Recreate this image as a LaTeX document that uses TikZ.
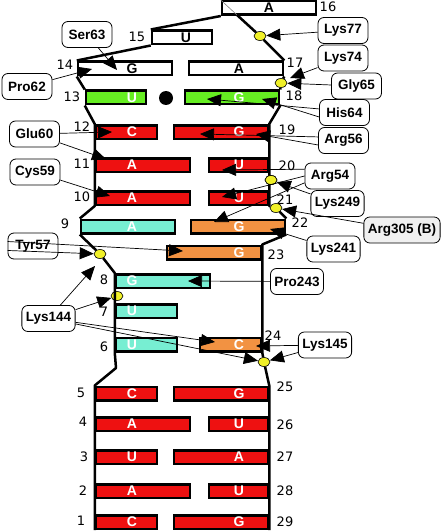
\documentclass[tikz,border=0pt]{standalone}
\usepackage{fontspec}
\setmainfont{Liberation Sans}
\newfontfamily\numfont{DejaVu Sans}
\usetikzlibrary{arrows.meta,shapes.geometric}
\definecolor{barred}{RGB}{238,17,17}
\definecolor{bargreen}{RGB}{102,238,34}
\definecolor{barcyan}{RGB}{119,238,210}
\definecolor{barorange}{RGB}{242,146,66}
\definecolor{dotyellow}{RGB}{240,240,40}
\begin{document}
\begin{tikzpicture}[x=1pt,y=-1pt,
    bar/.style={draw,line width=2.5pt,minimum height=13.5pt,inner sep=0pt},
    redbar/.style={bar,fill=barred},
    greenbar/.style={bar,fill=bargreen},
    cyanbar/.style={bar,fill=barcyan},
    orangebar/.style={bar,fill=barorange},
    whitebar/.style={bar,fill=white},
    wlet/.style={text=white,font=\fontsize{14}{14}\bfseries\selectfont,inner sep=0pt},
    blet/.style={text=black,font=\fontsize{14}{14}\bfseries\selectfont,inner sep=0pt},
    num/.style={font=\numfont\fontsize{13}{13}\selectfont,inner sep=0pt},
    ydot/.style={ellipse,draw,fill=dotyellow,minimum width=12pt,minimum height=9pt,inner sep=0pt,line width=0.6pt},
    bb/.style={line width=2.5pt,line join=round},
    lab/.style={draw,rounded corners=6pt,fill=white,line width=0.8pt,minimum height=26pt,minimum width=50pt,inner xsep=4pt,font=\fontsize{13.5}{15}\bfseries\selectfont},
    arr/.style={-{Triangle[length=14pt,width=12pt]},line width=0.7pt}]
\useasboundingbox (0,0) rectangle (441,532);

\node[redbar,minimum width=61pt] (b1) at (126.5,522) {};
\node[redbar,minimum width=94pt] (b29) at (221,522) {};
\node[redbar,minimum width=94pt] (b2) at (143,491) {};
\node[redbar,minimum width=59pt] (b28) at (238.5,491) {};
\node[redbar,minimum width=61pt] (b3) at (126.5,457) {};
\node[redbar,minimum width=94pt] (b27) at (221,457) {};
\node[redbar,minimum width=94pt] (b4) at (143,424) {};
\node[redbar,minimum width=59pt] (b26) at (238.5,424) {};
\node[redbar,minimum width=61pt] (b5) at (126.5,393.5) {};
\node[redbar,minimum width=94pt] (b25) at (221,393.5) {};
\node[cyanbar,minimum width=61pt] (b6) at (146.5,344.5) {};
\node[orangebar,minimum width=61pt] (b24) at (230.5,344.5) {};
\node[cyanbar,minimum width=61pt] (b7) at (146.5,311) {};
\node[cyanbar,minimum width=94pt] (b8) at (163,281) {};
\node[orangebar,minimum width=94pt] (b23) at (214,252.5) {};
\node[cyanbar,minimum width=94pt] (b9) at (128,226.5) {};
\node[orangebar,minimum width=94pt] (b22) at (238,226.5) {};
\node[redbar,minimum width=94pt] (b10) at (143,198) {};
\node[redbar,minimum width=59pt] (b21) at (238.5,198) {};
\node[redbar,minimum width=94pt] (b11) at (143,165) {};
\node[redbar,minimum width=59pt] (b20) at (238.5,165) {};
\node[redbar,minimum width=61pt] (b12) at (126.5,132) {};
\node[redbar,minimum width=94pt] (b19) at (221,132) {};
\node[greenbar,minimum width=60pt] (b13) at (116,97.5) {};
\node[greenbar,minimum width=94pt] (b18) at (232,97.5) {};
\node[whitebar,minimum width=94pt] (b14) at (125,68.5) {};
\node[whitebar,minimum width=94pt] (b17) at (236,68.5) {};
\node[whitebar,minimum width=60pt] (b15) at (182,37.5) {};
\node[whitebar,minimum width=94pt] (b16) at (269,8) {};

\node[wlet] (l1) at (132,522) {C};
\node[wlet] (l29) at (239,522) {G};
\node[wlet] (l2) at (132,491) {A};
\node[wlet] (l28) at (239,491) {U};
\node[wlet] (l3) at (132,457) {U};
\node[wlet] (l27) at (239,457) {A};
\node[wlet] (l4) at (132,424) {A};
\node[wlet] (l26) at (239,424) {U};
\node[wlet] (l5) at (132,393.5) {C};
\node[wlet] (l25) at (239,393.5) {G};
\node[wlet] (l6) at (132,344.5) {U};
\node[wlet] (l24) at (239,344.5) {C};
\node[wlet] (l7) at (132,311) {U};
\node[wlet] (l8) at (132,281) {G};
\node[wlet] (l23) at (239,252.5) {G};
\node[wlet] (l9) at (132,226.5) {A};
\node[wlet] (l22) at (239,226.5) {G};
\node[wlet] (l10) at (132,198) {A};
\node[wlet] (l21) at (239,198) {U};
\node[wlet] (l11) at (132,165) {A};
\node[wlet] (l20) at (239,165) {U};
\node[wlet] (l12) at (132,132) {C};
\node[wlet] (l19) at (239,132) {G};
\node[wlet] (l13) at (132,97.5) {U};
\node[wlet] (l18) at (239,97.5) {G};
\node[blet] (l14) at (132,68.5) {G};
\node[blet] (l17) at (239,68.5) {A};
\node[blet] (l15) at (186,37.5) {U};
\node[blet] (l16) at (269,8) {A};

\node[num] (n1) at (81,521) {1};
\node[num] (n29) at (285,522) {29};
\node[num] (n2) at (83,491) {2};
\node[num] (n28) at (285,491) {28};
\node[num] (n3) at (84,457) {3};
\node[num] (n27) at (285,457) {27};
\node[num] (n4) at (83,422) {4};
\node[num] (n26) at (285,425) {26};
\node[num] (n5) at (81,393) {5};
\node[num] (n25) at (285,387) {25};
\node[num] (n6) at (104,347) {6};
\node[num] (n24) at (273,336) {24};
\node[num] (n7) at (104,312) {7};
\node[num] (n8) at (104,280) {8};
\node[num] (n23) at (276,255) {23};
\node[num] (n9) at (65,224) {9};
\node[num] (n22) at (300,223) {22};
\node[num] (n10) at (82,197) {10};
\node[num] (n21) at (285,200) {21};
\node[num] (n11) at (82,164) {11};
\node[num] (n20) at (287,166) {20};
\node[num] (n12) at (82,127) {12};
\node[num] (n19) at (287,130) {19};
\node[num] (n13) at (72,97) {13};
\node[num] (n18) at (294,96) {18};
\node[num] (n14) at (65,65) {14};
\node[num] (n17) at (295,63) {17};
\node[num] (n15) at (137,37) {15};
\node[num] (n16) at (328,7) {16};

\node[ydot] (d77) at (260,36) {};
\node[ydot] (d65) at (281,83) {};
\node[ydot] (d20) at (271,180) {};
\node[ydot] (d22) at (276,208) {};
\node[ydot] (d9) at (100,254) {};
\node[ydot] (d8) at (117,296) {};
\node[ydot] (d24) at (264,362) {};
\node[circle,fill,minimum size=14pt,inner sep=0pt] (gu) at (166,98) {};

\coordinate (k16) at (237,15);
\coordinate (k5) at (116,368);
\draw[bb] (b16.south west) -- (b15.north west) (b15.south west) -- (b14.north west) (b14.south west) -- (b13.north west) (b13.south west) -- (b12.north west) -- (b10.south west) -- (b9.north west) (b9.south west) -- (d9) -- (b8.north west) -- (b6.south west) -- (k5) -- (b5.north west) -- (b1.south west);
\draw[gray,line width=0.6pt] (b16.north west) -- (k16);
\draw[bb] (k16) -- (d77) -- (b17.north east) (b17.south east) -- (d65) -- (b18.north east) (b18.south east) -- (b19.north east) -- (b21.south east) -- (d22) -- (b22.north east) (b22.south east) -- (b23.north east) -- (b24.south east) -- (d24) -- (b25.north east) -- (b29.south east);
\node[ydot] at (d20) {};

\node[lab] (lys77) at (343,30.5) {Lys77};
\node[lab] (ser63) at (87,34.5) {Ser63};
\node[lab] (lys74) at (343,58) {Lys74};
\node[lab] (pro62) at (27,86.5) {Pro62};
\node[lab] (gly65) at (356.5,86) {Gly65};
\node[lab] (his64) at (344.5,112.5) {His64};
\node[lab] (glu60) at (34.5,134) {Glu60};
\node[lab] (arg56) at (343.5,140.5) {Arg56};
\node[lab] (cys59) at (35,172) {Cys59};
\node[lab] (arg54) at (330,176) {Arg54};
\node[lab] (lys249) at (337.5,203.5) {Lys249};
\node[lab,fill=gray!12] (arg305) at (402,230) {Arg305 (B)};
\node[lab] (lys241) at (333.5,249) {Lys241};
\node[lab] (tyr57) at (33,246) {Tyr57};
\node[lab] (pro243) at (297,281.5) {Pro243};
\node[lab] (lys144) at (48.5,318.5) {Lys144};
\node[lab] (lys145) at (325,345) {Lys145};

\coordinate (t63) at (117,70);
\coordinate (t74) at (290,78);
\coordinate (t62) at (92,69);
\coordinate (t64a) at (207,99);
\coordinate (t64b) at (262,99);
\coordinate (t60a) at (112,132);
\coordinate (t60b) at (106,159);
\coordinate (t56a) at (200,134);
\coordinate (t56b) at (256,134);
\coordinate (t59) at (110,196);
\coordinate (t54a) at (222,170);
\coordinate (t54b) at (222,197);
\coordinate (t54c) at (214,222);
\coordinate (t241) at (270,229);
\coordinate (t57) at (183,251);
\coordinate (t243) at (188,281);
\coordinate (t144a) at (95,266);
\coordinate (t144b) at (215,342);
\coordinate (t145) at (256,346);

\draw[arr] (lys77) -- (d77);
\draw[arr] (ser63) -- (t63);
\draw[arr] (lys74) -- (t74);
\draw[arr] (pro62) -- (t62);
\draw[arr] (gly65) -- (d65);
\draw[arr] (his64.172) -- (t64a);
\draw[arr] (his64.190) -- (t64b);
\draw[arr] (glu60) -- (t60a);
\draw[arr] (glu60) -- (t60b);
\draw[arr] (arg56.172) -- (t56a);
\draw[arr] (arg56.190) -- (t56b);
\draw[arr] (cys59) -- (t59);
\draw[arr] (arg54.165) -- (t54a);
\draw[arr] (arg54.west) -- (t54b);
\draw[arr] (arg54.195) -- (t54c);
\draw[arr] (lys249) -- (d20);
\draw[arr] (arg305) -- (d22);
\draw[arr] (lys241) -- (t241);
\draw[arr] (tyr57.170) -- (t57);
\draw[arr] (tyr57.190) -- (d9);
\draw[arr] (pro243) -- (t243);
\draw[arr] (lys144) -- (t144a);
\draw[arr] (lys144) -- (d8);
\draw[arr] (lys144) -- (t144b);
\draw[arr] (lys144) -- (d24);
\draw[arr] (lys145) -- (t145);
\draw[arr] (lys145) -- (d24);
\end{tikzpicture}
\end{document}
